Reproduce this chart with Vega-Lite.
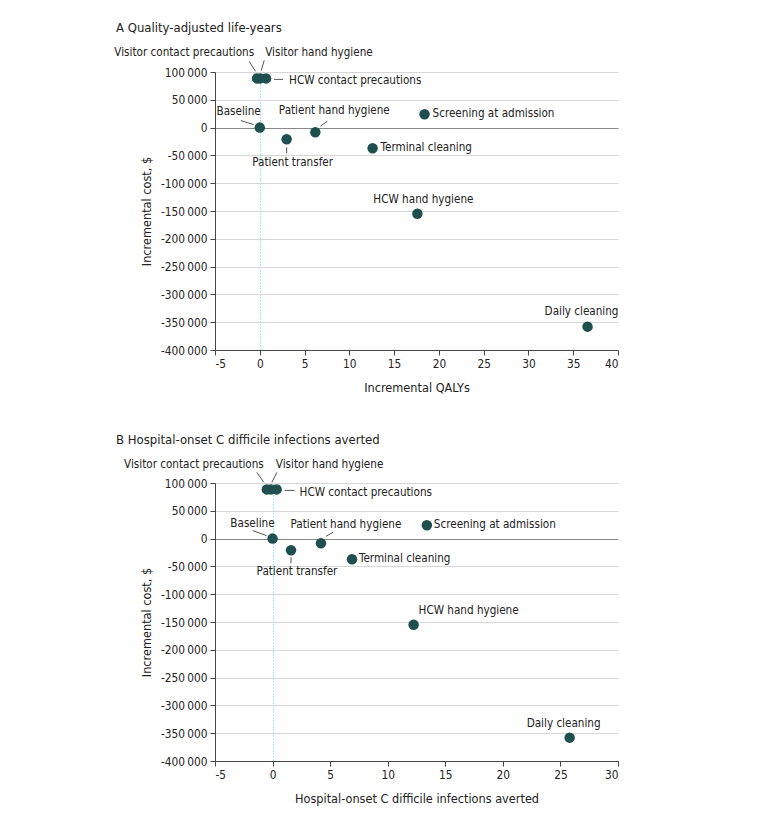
{
  "$schema": "https://vega.github.io/schema/vega-lite/v6.json",
  "padding": {"left": 114, "top": 22, "right": 5, "bottom": 5},
  "background": "white",
  "spacing": 39,
  "config": {
    "font": "DejaVu Sans Condensed, Liberation Sans Narrow, DejaVu Sans, sans-serif",
    "locale": {"number": {"decimal": ".", "thousands": "\u2009", "grouping": [3], "currency": ["$", ""], "minus": "-"}},
    "view": {"stroke": null},
    "axis": {"labelFontSize": 11.8, "titleFontSize": 12.6, "titleFontWeight": "normal", "labelColor": "#222", "titleColor": "#222", "domainColor": "#444", "tickColor": "#444", "tickSize": 5},
    "text": {"fontSize": 11.6, "color": "#222", "baseline": "middle"},
    "title": {"fontSize": 13, "fontWeight": "normal", "color": "#222", "anchor": "start", "frame": "group"}
  },
  "datasets": {
    "pts": [
      {"name": "Baseline", "qaly": 0, "infections": 0, "cost": 0},
      {"name": "Visitor contact precautions", "qaly": -0.3, "infections": -0.5, "cost": 88500},
      {"name": "Visitor hand hygiene", "qaly": 0.05, "infections": -0.15, "cost": 88500},
      {"name": "HCW contact precautions", "qaly": 0.7, "infections": 0.35, "cost": 88500},
      {"name": "Patient transfer", "qaly": 3.0, "infections": 1.6, "cost": -21000},
      {"name": "Patient hand hygiene", "qaly": 6.2, "infections": 4.2, "cost": -8500},
      {"name": "Terminal cleaning", "qaly": 12.6, "infections": 6.9, "cost": -37000},
      {"name": "Screening at admission", "qaly": 18.4, "infections": 13.4, "cost": 24000},
      {"name": "HCW hand hygiene", "qaly": 17.6, "infections": 12.25, "cost": -155000},
      {"name": "Daily cleaning", "qaly": 36.6, "infections": 25.8, "cost": -358000}
    ]
  },
  "vconcat": [
    {
      "width": 403,
      "height": 278,
      "title": {"text": "A   Quality-adjusted life-years", "dx": -99, "offset": 12},
      "data": {"name": "pts"},
      "encoding": {
        "x": {"field": "qaly", "type": "quantitative", "scale": {"domain": [-5, 40], "nice": false, "zero": false},
          "axis": {"title": "Incremental QALYs", "values": [-5, 0, 5, 10, 15, 20, 25, 30, 35, 40], "grid": true,
            "gridColor": {"condition": {"test": "datum.value === 0", "value": "#55d6e8"}, "value": "transparent"},
            "gridDash": [1, 2], "gridWidth": 1.2, "titlePadding": 12, "labelPadding": 3}},
        "y": {"field": "cost", "type": "quantitative", "scale": {"domain": [-400000, 100000], "nice": false, "zero": false},
          "axis": {"title": "Incremental cost, $", "format": ",d", "values": [-400000, -350000, -300000, -250000, -200000, -150000, -100000, -50000, 0, 50000, 100000],
            "gridColor": {"condition": {"test": "datum.value === 0", "value": "#888"}, "value": "#d6d6d6"}, "titlePadding": 7, "labelPadding": 3}}
      },
      "layer": [
        {"mark": {"type": "circle", "size": 110, "opacity": 1, "color": "#1f4f4f"}},
        {"transform": [{"filter": "datum.name === 'Terminal cleaning' || datum.name === 'Screening at admission'"}], "mark": {"type": "text", "align": "left", "dx": 8}, "encoding": {"text": {"field": "name"}}},
        {"transform": [{"filter": "datum.name === 'Visitor contact precautions'"}], "mark": {"type": "text", "align": "right", "dx": -3, "dy": -25}, "encoding": {"text": {"field": "name"}}},
        {"transform": [{"filter": "datum.name === 'Visitor hand hygiene'"}], "mark": {"type": "text", "align": "left", "dx": 5, "dy": -25}, "encoding": {"text": {"field": "name"}}},
        {"transform": [{"filter": "datum.name === 'HCW contact precautions'"}], "mark": {"type": "text", "align": "left", "dx": 23, "dy": 3}, "encoding": {"text": {"field": "name"}}},
        {"transform": [{"filter": "datum.name === 'Baseline'"}], "mark": {"type": "text", "align": "right", "dx": 1, "dy": -16}, "encoding": {"text": {"field": "name"}}},
        {"transform": [{"filter": "datum.name === 'Patient hand hygiene'"}], "mark": {"type": "text", "align": "center", "dx": 19, "dy": -21}, "encoding": {"text": {"field": "name"}}},
        {"transform": [{"filter": "datum.name === 'Patient transfer'"}], "mark": {"type": "text", "align": "center", "dx": 6, "dy": 24}, "encoding": {"text": {"field": "name"}}},
        {"transform": [{"filter": "datum.name === 'HCW hand hygiene'"}], "mark": {"type": "text", "align": "center", "dx": 6, "dy": -14}, "encoding": {"text": {"field": "name"}}},
        {"transform": [{"filter": "datum.name === 'Daily cleaning'"}], "mark": {"type": "text", "align": "center", "dx": -6, "dy": -15}, "encoding": {"text": {"field": "name"}}},
        {"transform": [{"filter": "datum.name === 'Visitor contact precautions'"}], "mark": {"type": "rule", "color": "#555", "xOffset": -8, "yOffset": -17, "x2Offset": -1.5, "y2Offset": -7}, "encoding": {"x2": {"field": "qaly"}, "y2": {"field": "cost"}}},
        {"transform": [{"filter": "datum.name === 'Visitor hand hygiene'"}], "mark": {"type": "rule", "color": "#555", "xOffset": 4, "yOffset": -18, "x2Offset": 1, "y2Offset": -8}, "encoding": {"x2": {"field": "qaly"}, "y2": {"field": "cost"}}},
        {"transform": [{"filter": "datum.name === 'HCW contact precautions'"}], "mark": {"type": "rule", "color": "#555", "xOffset": 8, "yOffset": 1, "x2Offset": 17, "y2Offset": 1}, "encoding": {"x2": {"field": "qaly"}, "y2": {"field": "cost"}}},
        {"transform": [{"filter": "datum.name === 'Baseline'"}], "mark": {"type": "rule", "color": "#555", "xOffset": -19, "yOffset": -7, "x2Offset": -6, "y2Offset": -3}, "encoding": {"x2": {"field": "qaly"}, "y2": {"field": "cost"}}},
        {"transform": [{"filter": "datum.name === 'Patient hand hygiene'"}], "mark": {"type": "rule", "color": "#555", "xOffset": 12, "yOffset": -11, "x2Offset": 5, "y2Offset": -6}, "encoding": {"x2": {"field": "qaly"}, "y2": {"field": "cost"}}},
        {"transform": [{"filter": "datum.name === 'Patient transfer'"}], "mark": {"type": "rule", "color": "#555", "xOffset": 0, "yOffset": 8, "x2Offset": 0, "y2Offset": 14}, "encoding": {"x2": {"field": "qaly"}, "y2": {"field": "cost"}}}
      ]
    },
    {
      "width": 403,
      "height": 278,
      "title": {"text": "B   Hospital-onset C difficile infections averted", "dx": -99, "offset": 12},
      "data": {"name": "pts"},
      "encoding": {
        "x": {"field": "infections", "type": "quantitative", "scale": {"domain": [-5, 30], "nice": false, "zero": false},
          "axis": {"title": "Hospital-onset C difficile infections averted", "values": [-5, 0, 5, 10, 15, 20, 25, 30], "grid": true,
            "gridColor": {"condition": {"test": "datum.value === 0", "value": "#55d6e8"}, "value": "transparent"},
            "gridDash": [1, 2], "gridWidth": 1.2, "titlePadding": 12, "labelPadding": 3}},
        "y": {"field": "cost", "type": "quantitative", "scale": {"domain": [-400000, 100000], "nice": false, "zero": false},
          "axis": {"title": "Incremental cost, $", "format": ",d", "values": [-400000, -350000, -300000, -250000, -200000, -150000, -100000, -50000, 0, 50000, 100000],
            "gridColor": {"condition": {"test": "datum.value === 0", "value": "#888"}, "value": "#d6d6d6"}, "titlePadding": 7, "labelPadding": 3}}
      },
      "layer": [
        {"mark": {"type": "circle", "size": 110, "opacity": 1, "color": "#1f4f4f"}},
        {"transform": [{"filter": "datum.name === 'Terminal cleaning' || datum.name === 'Screening at admission'"}], "mark": {"type": "text", "align": "left", "dx": 7}, "encoding": {"text": {"field": "name"}}},
        {"transform": [{"filter": "datum.name === 'Visitor contact precautions'"}], "mark": {"type": "text", "align": "right", "dx": -3, "dy": -24}, "encoding": {"text": {"field": "name"}}},
        {"transform": [{"filter": "datum.name === 'Visitor hand hygiene'"}], "mark": {"type": "text", "align": "left", "dx": 5, "dy": -24}, "encoding": {"text": {"field": "name"}}},
        {"transform": [{"filter": "datum.name === 'HCW contact precautions'"}], "mark": {"type": "text", "align": "left", "dx": 23, "dy": 4}, "encoding": {"text": {"field": "name"}}},
        {"transform": [{"filter": "datum.name === 'Baseline'"}], "mark": {"type": "text", "align": "right", "dx": 2, "dy": -15}, "encoding": {"text": {"field": "name"}}},
        {"transform": [{"filter": "datum.name === 'Patient hand hygiene'"}], "mark": {"type": "text", "align": "center", "dx": 25, "dy": -18}, "encoding": {"text": {"field": "name"}}},
        {"transform": [{"filter": "datum.name === 'Patient transfer'"}], "mark": {"type": "text", "align": "center", "dx": 6, "dy": 22}, "encoding": {"text": {"field": "name"}}},
        {"transform": [{"filter": "datum.name === 'HCW hand hygiene'"}], "mark": {"type": "text", "align": "center", "dx": 55, "dy": -14}, "encoding": {"text": {"field": "name"}}},
        {"transform": [{"filter": "datum.name === 'Daily cleaning'"}], "mark": {"type": "text", "align": "center", "dx": -6, "dy": -14}, "encoding": {"text": {"field": "name"}}},
        {"transform": [{"filter": "datum.name === 'Visitor contact precautions'"}], "mark": {"type": "rule", "color": "#555", "xOffset": -10, "yOffset": -17, "x2Offset": -3, "y2Offset": -7}, "encoding": {"x2": {"field": "infections"}, "y2": {"field": "cost"}}},
        {"transform": [{"filter": "datum.name === 'Visitor hand hygiene'"}], "mark": {"type": "rule", "color": "#555", "xOffset": 6, "yOffset": -17, "x2Offset": 1, "y2Offset": -7}, "encoding": {"x2": {"field": "infections"}, "y2": {"field": "cost"}}},
        {"transform": [{"filter": "datum.name === 'HCW contact precautions'"}], "mark": {"type": "rule", "color": "#555", "xOffset": 8, "yOffset": 1, "x2Offset": 18, "y2Offset": 1}, "encoding": {"x2": {"field": "infections"}, "y2": {"field": "cost"}}},
        {"transform": [{"filter": "datum.name === 'Baseline'"}], "mark": {"type": "rule", "color": "#555", "xOffset": -20, "yOffset": -8, "x2Offset": -6, "y2Offset": -3}, "encoding": {"x2": {"field": "infections"}, "y2": {"field": "cost"}}},
        {"transform": [{"filter": "datum.name === 'Patient hand hygiene'"}], "mark": {"type": "rule", "color": "#555", "xOffset": 12, "yOffset": -11, "x2Offset": 5, "y2Offset": -7}, "encoding": {"x2": {"field": "infections"}, "y2": {"field": "cost"}}},
        {"transform": [{"filter": "datum.name === 'Patient transfer'"}], "mark": {"type": "rule", "color": "#555", "xOffset": 0, "yOffset": 7, "x2Offset": 0, "y2Offset": 13}, "encoding": {"x2": {"field": "infections"}, "y2": {"field": "cost"}}}
      ]
    }
  ]
}
